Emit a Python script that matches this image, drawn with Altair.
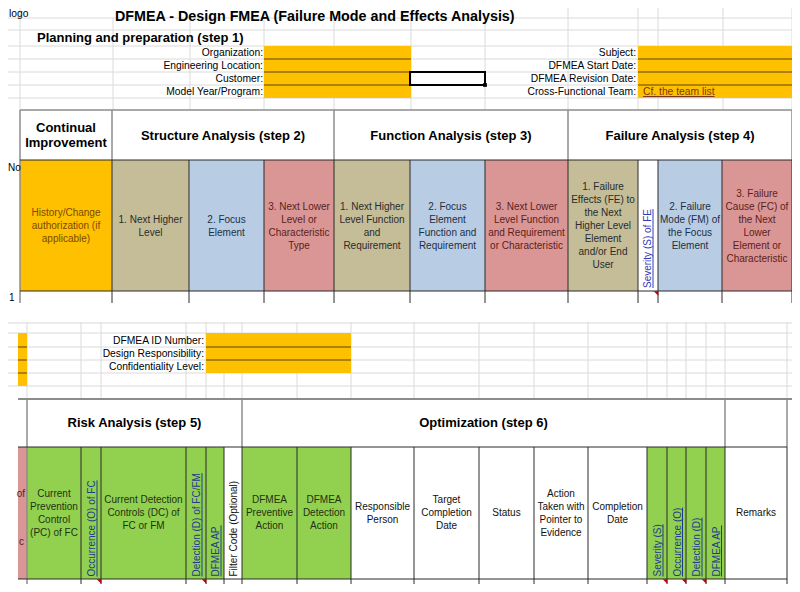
import altair as alt
import pandas as pd

FONT = "Liberation Sans"

# ---------------- text content ----------------
TITLE = "DFMEA - Design FMEA (Failure Mode and Effects Analysis)"
LOGO = "logo"
STEP1 = "Planning and preparation (step 1)"
PLAN_LEFT = ["Organization:", "Engineering Location:", "Customer:", "Model Year/Program:"]
PLAN_RIGHT = ["Subject:", "DFMEA Start Date:", "DFMEA Revision Date:", "Cross-Functional Team:"]
TEAM_LINK = "Cf. the team list"
MID_LABELS = ["DFMEA ID Number:", "Design Responsibility:", "Confidentiality Level:"]

TOP_GROUPS = ["Continual\nImprovement", "Structure Analysis (step 2)",
              "Function Analysis (step 3)", "Failure Analysis (step 4)"]
TOP_GROUP_SPAN = [(0, 1), (1, 4), (4, 7), (7, 11)]
TOP_COLUMNS = ["History/Change\nauthorization (if\napplicable)",
               "1. Next Higher\nLevel",
               "2. Focus\nElement",
               "3. Next Lower\nLevel or\nCharacteristic\nType",
               "1. Next Higher\nLevel Function\nand\nRequirement",
               "2. Focus\nElement\nFunction and\nRequirement",
               "3. Next Lower\nLevel Function\nand Requirement\nor Characteristic",
               "1. Failure\nEffects (FE) to\nthe Next\nHigher Level\nElement\nand/or End\nUser",
               "Severity (S) of FE",
               "2. Failure\nMode (FM) of\nthe Focus\nElement",
               "3. Failure\nCause (FC) of\nthe Next\nLower\nElement or\nCharacteristic",
               ""]
TOP_KIND = ["orange", "tan", "blue", "pink", "tan", "blue", "pink", "tan",
            "rating_w", "blue", "pink", "green"]
ROW_HEAD = "No"
ROW_ONE = "1"

BOT_GROUPS = ["Risk Analysis (step 5)", "Optimization (step 6)"]
BOT_GROUP_SPAN = [(1, 7), (7, 18)]
BOT_COLUMNS = ["",
               "Current\nPrevention\nControl\n(PC) of FC",
               "Occurrence (O) of FC",
               "Current Detection\nControls (DC) of\nFC or FM",
               "Detection (D) of FC/FM",
               "DFMEA AP",
               "Filter Code (Optional)",
               "DFMEA\nPreventive\nAction",
               "DFMEA\nDetection\nAction",
               "Responsible\nPerson",
               "Target\nCompletion\nDate",
               "Status",
               "Action\nTaken with\nPointer to\nEvidence",
               "Completion\nDate",
               "Severity (S)",
               "Occurrence (O)",
               "Detection (D)",
               "DFMEA AP",
               "Remarks"]
BOT_KIND = ["pink", "green", "rating_g", "green", "rating_g", "rating_g", "filter",
            "green", "green", "white", "white", "white", "white", "white",
            "rating_g", "rating_g", "rating_g", "rating_g", "white"]
BOT_EDGE_FRAGMENTS = ["of", "c"]
COMMENT_CELLS_BOT = [2, 4, 14, 15, 16]
COMMENT_CELLS_TOP = [8]

# ---------------- layout (sheet grid, pixels of the sheet) ----------------
TOP_X = [20, 112, 189, 264, 334, 410, 485, 568, 638, 658, 722, 792, 880]
TOP_Y = [110, 160, 291, 303]
BOT_X = [18, 27, 81, 101, 186, 206, 224, 242, 297, 351, 414, 479, 534, 588,
         647, 667, 686, 706, 725, 787]
BOT_Y = [399, 447, 579, 600]
PLAN_ROWS = [46, 59, 72, 85, 98]
MID_ROWS = [333, 347, 360, 373, 386]

FILL = {"orange": "#FFC000", "tan": "#C4BD97", "blue": "#B8CCE4", "pink": "#DA9694",
        "green": "#92D050", "white": "#FFFFFF", "rating_w": "#FFFFFF",
        "rating_g": "#92D050", "filter": "#FFFFFF"}
INK = {"orange": "#7A4A00", "tan": "#2B2B2B", "blue": "#1F2F45", "pink": "#5A1E1C",
       "green": "#1F3310", "white": "#111111", "rating_w": "#3838B8",
       "rating_g": "#1F3C8C", "filter": "#111111"}
GRID = "#DADADA"
DARK = "#2A2A2A"
GRAY = "#8C8C8C"
ORANGE_LINE = "#5A4510"
LH_REG, LH_BOLD = 13, 15

# Arial-like advance widths (per 1000 em) for underline lengths
AW = {" ": 278, "(": 333, ")": 333, "/": 278, ".": 278, "A": 667, "C": 722, "D": 722,
      "E": 667, "F": 611, "M": 833, "O": 778, "P": 667, "S": 667, "a": 556, "c": 500,
      "e": 556, "f": 278, "h": 556, "i": 222, "l": 222, "m": 833, "n": 556, "o": 556,
      "r": 333, "s": 500, "t": 278, "u": 556, "v": 500, "y": 500}


def tw(s, fs):
    return sum(AW.get(ch, 556) for ch in s) * fs / 1000.0


grid, fills, lines, texts, rot, marks = [], [], [], [], [], []


def rule(lst, x, x2, y, y2, c, w=1.0):
    lst.append(dict(x=x, x2=x2, y=y, y2=y2, c=c, w=w))


def rect(x, x2, y, y2, c):
    fills.append(dict(x=x, x2=x2, y=y, y2=y2, c=c))


def text(t, x, y, size=10, c="#000000", align="center", weight="normal"):
    lh = LH_REG if weight == "normal" else LH_BOLD
    n = t.count("\n") + 1
    texts.append(dict(t=t, x=x, y=y - (n - 1) * lh / 2.0, s=size, c=c, a=align, wgt=weight))


# ---- light sheet gridlines ----
for y in [18, 30] + PLAN_ROWS:
    rule(grid, 0, 800, y, y, GRID)
for x in [20, 113, 190, 264, 334, 411, 485, 568, 638, 658, 723, 792]:
    rule(grid, x, x, 18, 110, GRID)
for x in [20, 568, 638, 658, 723, 792]:
    rule(grid, x, x, 0, 18, GRID)
for y in [323] + MID_ROWS:
    rule(grid, 0, 800, y, y, GRID)
for x in BOT_X[1:]:
    rule(grid, x, x, 322, 399, GRID)

# ---- planning block ----
rect(264, 411, PLAN_ROWS[0], PLAN_ROWS[-1], FILL["orange"])
rect(638, 792, PLAN_ROWS[0], PLAN_ROWS[-1], FILL["orange"])
for y in PLAN_ROWS[1:-1]:
    rule(lines, 264, 411, y, y, ORANGE_LINE)
    rule(lines, 638, 792, y, y, ORANGE_LINE)
for i, lab in enumerate(PLAN_LEFT):
    yc = (PLAN_ROWS[i] + PLAN_ROWS[i + 1]) / 2
    text(lab, 263, yc, 10.3, align="right")
for i, lab in enumerate(PLAN_RIGHT):
    yc = (PLAN_ROWS[i] + PLAN_ROWS[i + 1]) / 2
    text(lab, 636, yc, 10.3, align="right")
yl = (PLAN_ROWS[3] + PLAN_ROWS[4]) / 2
text(TEAM_LINK, 643, yl, 10.3, c="#7B3A14", align="left")
rule(lines, 643, 643 + tw(TEAM_LINK, 10.3), yl + 5, yl + 5, "#7B3A14")

text(TITLE, 115, 16.5, 14.3, align="left", weight="bold")
text(LOGO, 9, 14, 10.3, align="left")
text(STEP1, 37, 38, 13, align="left", weight="bold")

# ---- middle block ----
rect(18, 27, MID_ROWS[0], MID_ROWS[-1], FILL["orange"])
rect(206, 351, MID_ROWS[0], MID_ROWS[-2], FILL["orange"])
for y in MID_ROWS[1:-1]:
    rule(lines, 18, 27, y, y, ORANGE_LINE)
for y in MID_ROWS[1:-2]:
    rule(lines, 206, 351, y, y, ORANGE_LINE)
for i, lab in enumerate(MID_LABELS):
    text(lab, 204, (MID_ROWS[i] + MID_ROWS[i + 1]) / 2 + 0.5, 10.3, align="right")

# ---- top table ----
for i, kind in enumerate(TOP_KIND):
    rect(TOP_X[i], TOP_X[i + 1], TOP_Y[1], TOP_Y[2], FILL[kind])
rule(lines, 20, 800, TOP_Y[0], TOP_Y[0], GRAY, 1.5)
rule(lines, 20, 20, TOP_Y[0], TOP_Y[3], GRAY, 1.5)
for a, b in TOP_GROUP_SPAN:
    rule(lines, TOP_X[b], TOP_X[b], TOP_Y[0], TOP_Y[1], GRAY, 1.5)
rule(lines, 20, 800, TOP_Y[1], TOP_Y[1], DARK)
rule(lines, 20, 800, TOP_Y[2], TOP_Y[2], DARK)
for x in TOP_X[1:-1]:
    rule(lines, x, x, TOP_Y[1], TOP_Y[3], DARK)
for g, (a, b) in zip(TOP_GROUPS, TOP_GROUP_SPAN):
    text(g, (TOP_X[a] + TOP_X[b]) / 2, (TOP_Y[0] + TOP_Y[1]) / 2 + 0.5, 13, weight="bold")
ymid_top = (TOP_Y[1] + TOP_Y[2]) / 2 + 0.5
for i, (lab, kind) in enumerate(zip(TOP_COLUMNS, TOP_KIND)):
    if not lab:
        continue
    xc = (TOP_X[i] + TOP_X[i + 1]) / 2
    if kind.startswith("rating"):
        rot.append(dict(t=lab, x=xc, y=TOP_Y[2] - 3, c=INK[kind]))
        rule(lines, xc + 5, xc + 5, TOP_Y[2] - 3, TOP_Y[2] - 3 - tw(lab, 10), INK[kind])
    else:
        text(lab, xc, ymid_top, 10, c=INK[kind])
text(ROW_HEAD, 8, 168, 10, align="left")
text(ROW_ONE, 9, 298, 10, align="left")
for i in COMMENT_CELLS_TOP:
    marks.append(dict(x=TOP_X[i + 1] - 2, y=TOP_Y[2] + 2.5))

# ---- bottom table ----
for i, kind in enumerate(BOT_KIND):
    rect(BOT_X[i], BOT_X[i + 1], BOT_Y[1], BOT_Y[2], FILL[kind])
rule(lines, 18, 800, BOT_Y[0], BOT_Y[0], GRAY, 2)
rule(lines, 27, 27, BOT_Y[0], BOT_Y[3], GRAY, 1.5)
for a, b in BOT_GROUP_SPAN:
    rule(lines, BOT_X[b], BOT_X[b], BOT_Y[0], BOT_Y[1], GRAY, 1.5)
rule(lines, BOT_X[-1], BOT_X[-1], BOT_Y[0], BOT_Y[1], GRAY, 1.5)
rule(lines, 18, BOT_X[-1], BOT_Y[1], BOT_Y[1], DARK)
rule(lines, 18, BOT_X[-1], BOT_Y[2], BOT_Y[2], DARK)
for x in BOT_X[2:]:
    rule(lines, x, x, BOT_Y[1], BOT_Y[3], DARK)
for g, (a, b) in zip(BOT_GROUPS, BOT_GROUP_SPAN):
    xc = (BOT_X[a] + BOT_X[b]) / 2
    text(g, xc, (BOT_Y[0] + BOT_Y[1]) / 2, 13, weight="bold")
ymid_bot = (BOT_Y[1] + BOT_Y[2]) / 2
for i, (lab, kind) in enumerate(zip(BOT_COLUMNS, BOT_KIND)):
    if not lab:
        continue
    xc = (BOT_X[i] + BOT_X[i + 1]) / 2
    if kind.startswith("rating") or kind == "filter":
        rot.append(dict(t=lab, x=xc + 1, y=BOT_Y[2] - 2.5, c=INK[kind]))
        if kind != "filter":
            rule(lines, xc + 6, xc + 6, BOT_Y[2] - 2.5, BOT_Y[2] - 2.5 - tw(lab, 10), INK[kind])
    else:
        text(lab, xc, ymid_bot, 10, c=INK[kind])
text(BOT_EDGE_FRAGMENTS[0], 25, 494, 10, c=INK["pink"], align="right")
text(BOT_EDGE_FRAGMENTS[1], 24, 542, 10, c=INK["pink"], align="right")
for i in COMMENT_CELLS_BOT:
    marks.append(dict(x=BOT_X[i + 1] - 2, y=BOT_Y[2] + 2.5))

# ---------------- chart ----------------
XS = alt.Scale(domain=[8, 792], range=[0, 784], nice=False, zero=False)
YS = alt.Scale(domain=[8, 584], range=[0, 576], nice=False, zero=False)


def rules_layer(rows):
    return alt.Chart(pd.DataFrame(rows)).mark_rule(strokeCap="butt").encode(
        x=alt.X("x:Q", scale=XS, axis=None), x2="x2:Q",
        y=alt.Y("y:Q", scale=YS, axis=None), y2="y2:Q",
        color=alt.Color("c:N", scale=None),
        strokeWidth=alt.StrokeWidth("w:Q", scale=None))


grid_layer = rules_layer(grid)
fill_layer = alt.Chart(pd.DataFrame(fills)).mark_rect().encode(
    x=alt.X("x:Q", scale=XS, axis=None), x2="x2:Q",
    y=alt.Y("y:Q", scale=YS, axis=None), y2="y2:Q",
    color=alt.Color("c:N", scale=None))
line_layer = rules_layer(lines)

tdf = pd.DataFrame(texts)
text_layers = []
for (a, wgt), sub in tdf.groupby(["a", "wgt"]):
    text_layers.append(
        alt.Chart(sub).mark_text(font=FONT, align=a, baseline="middle", fontWeight=wgt,
                                 lineBreak="\n", lineHeight=LH_REG if wgt == "normal" else LH_BOLD,
                                 clip=True).encode(
            x=alt.X("x:Q", scale=XS, axis=None), y=alt.Y("y:Q", scale=YS, axis=None),
            text="t:N", color=alt.Color("c:N", scale=None),
            size=alt.Size("s:Q", scale=None)))

rot_layer = alt.Chart(pd.DataFrame(rot)).mark_text(
    font=FONT, fontSize=10, angle=270, align="left", baseline="middle").encode(
    x=alt.X("x:Q", scale=XS, axis=None), y=alt.Y("y:Q", scale=YS, axis=None),
    text="t:N", color=alt.Color("c:N", scale=None))

mark_layer = alt.Chart(pd.DataFrame(marks)).mark_point(
    shape="M -1 -1 L 1 -1 L 1 1 Z", filled=True, color="#C00000", size=22, opacity=1).encode(
    x=alt.X("x:Q", scale=XS, axis=None), y=alt.Y("y:Q", scale=YS, axis=None))

sel = pd.DataFrame([dict(x=410, x2=485, y=72, y2=85)])
sel_layer = alt.Chart(sel).mark_rect(filled=False, color="#000000", strokeWidth=2).encode(
    x=alt.X("x:Q", scale=XS, axis=None), x2="x2:Q",
    y=alt.Y("y:Q", scale=YS, axis=None), y2="y2:Q")
handle_layer = alt.Chart(sel).mark_square(size=14, color="#000000", opacity=1).encode(
    x=alt.X("x2:Q", scale=XS, axis=None), y=alt.Y("y2:Q", scale=YS, axis=None))

chart = alt.layer(grid_layer, fill_layer, line_layer, *text_layers, rot_layer,
                  mark_layer, sel_layer, handle_layer).properties(
    width=784, height=576, padding=0, autosize=alt.AutoSizeParams(type="none"),
    background="#FFFFFF"
).configure_view(stroke=None)

chart.save("out.html", embed_options={"renderer": "svg", "actions": False})
